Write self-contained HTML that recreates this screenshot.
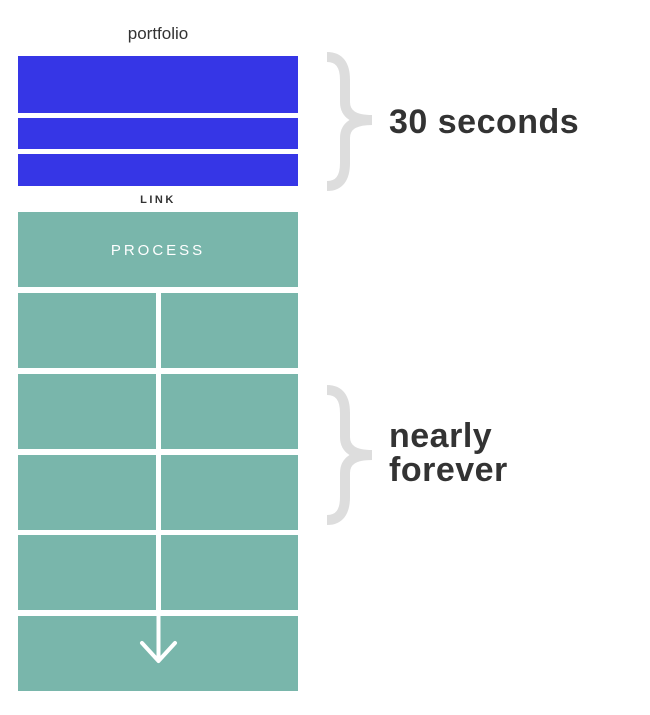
<!DOCTYPE html>
<html><head><meta charset="utf-8"><style>
body{margin:0;background:#fff;width:650px;height:710px;overflow:hidden;font-family:"Liberation Sans",sans-serif}
</style></head><body>
<svg width="650" height="710" xmlns="http://www.w3.org/2000/svg">
<text x="158" y="39" text-anchor="middle" font-size="17" fill="#333" font-family="Liberation Sans, sans-serif">portfolio</text>
<rect x="18" y="56" width="280" height="57" fill="#3636e6"/>
<rect x="18" y="118" width="280" height="31" fill="#3636e6"/>
<rect x="18" y="154" width="280" height="32" fill="#3636e6"/>
<text x="158" y="203" text-anchor="middle" font-size="11" font-weight="bold" letter-spacing="2.5" fill="#333" font-family="Liberation Sans, sans-serif">LINK</text>
<rect x="18" y="212" width="280" height="75" fill="#79b6ab"/>
<text x="158" y="255" text-anchor="middle" font-size="15" letter-spacing="3" fill="#fff" font-family="Liberation Sans, sans-serif">PROCESS</text>
<g fill="#79b6ab">
<rect x="18" y="293" width="138" height="75"/><rect x="161" y="293" width="137" height="75"/>
<rect x="18" y="374" width="138" height="75"/><rect x="161" y="374" width="137" height="75"/>
<rect x="18" y="455" width="138" height="75"/><rect x="161" y="455" width="137" height="75"/>
<rect x="18" y="535" width="138" height="75"/><rect x="161" y="535" width="137" height="75"/>
<rect x="18" y="616" width="280" height="75"/>
</g>
<line x1="158.5" y1="610" x2="158.5" y2="660" stroke="#fff" stroke-width="4"/>
<polyline points="142,643 158.5,661 175,643" fill="none" stroke="#fff" stroke-width="4" stroke-linecap="round" stroke-linejoin="round"/>
<g fill="none" stroke="#ddd" stroke-width="10">
<path d="M327,57 Q345,57 345,80 V102 Q345,120 372,120 Q345,120 345,138 V163 Q345,186 327,186"/>
<path d="M327,390 Q345,390 345,413 V437 Q345,455 372,455 Q345,455 345,473 V497 Q345,520 327,520"/>
</g>
<g font-family="Liberation Sans, sans-serif" font-weight="bold" font-size="34" letter-spacing="0.5" fill="#333">
<text x="389" y="133">30 seconds</text>
<text x="389" y="447">nearly</text>
<text x="389" y="481">forever</text>
</g>
</svg>
</body></html>
